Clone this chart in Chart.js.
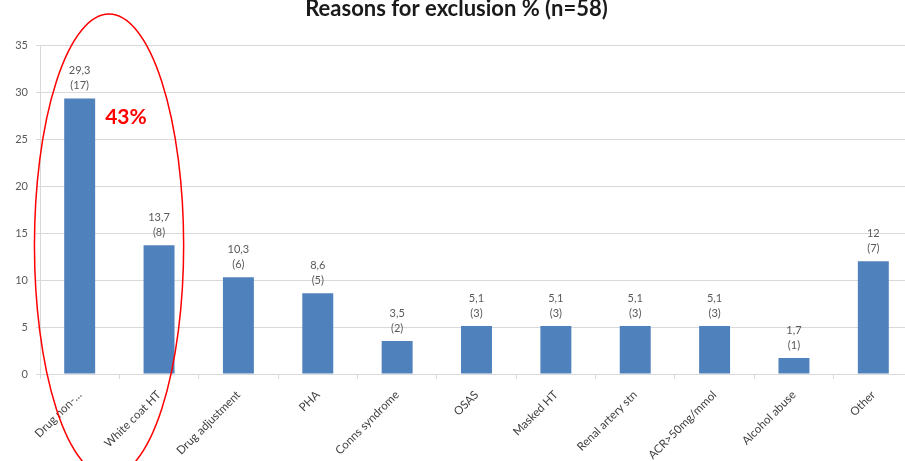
<!DOCTYPE html>
<html>
<head>
<meta charset="utf-8">
<script src="https://cdn.jsdelivr.net/npm/chart.js@4/dist/chart.umd.min.js"></script>
<style>
  html, body { margin: 0; padding: 0; background: #fff; overflow: hidden; }
  .chartBox { width: 913px; height: 461px; position: relative; }
</style>
</head>
<body>
<div class="chartBox"><canvas id="chart"></canvas></div>
<script>
const categories = ["Drug non-…", "White coat HT", "Drug adjustment", "PHA", "Conns syndrome",
	"OSAS", "Masked HT", "Renal artery stn", "ACR>50mg/mmol", "Alcohol abuse", "Other"];
const percents = [29.3, 13.7, 10.3, 8.6, 3.5, 5.1, 5.1, 5.1, 5.1, 1.7, 12];
const counts = [17, 8, 6, 5, 2, 3, 3, 3, 3, 1, 7];
const yTicks = [0, 5, 10, 15, 20, 25, 30, 35];
const highlightText = "43%";

const fontFamily = "Lato, 'Open Sans', sans-serif";

// two-line label above each bar: "29,3" / "(17)"
const barLabels = {
	id: "barLabels",
	afterDatasetsDraw(chart) {
		const ctx = chart.ctx;
		const meta = chart.getDatasetMeta(0);
		ctx.save();
		ctx.font = `11px ${fontFamily}`;
		ctx.fillStyle = "#595959";
		ctx.textAlign = "center";
		ctx.textBaseline = "middle";
		meta.data.forEach((bar, i) => {
			const txt = String(percents[i]).replace(".", ",");
			ctx.fillText(txt, bar.x, bar.y - 28);
			ctx.fillText(`(${counts[i]})`, bar.x, bar.y - 13);
		});
		ctx.restore();
	}
};

// red ellipse round the first two bars and the "43%" note
const highlight = {
	id: "highlight",
	afterDraw(chart) {
		const ctx = chart.ctx;
		const x = chart.scales.x;
		const y = chart.scales.y;
		const step = x.getPixelForValue(1) - x.getPixelForValue(0);
		const cx = x.getPixelForValue(0) + step * 0.37;
		const cy = y.getPixelForValue(13.7);
		const rx = step * 0.94;
		const ry = y.getPixelForValue(0) - y.getPixelForValue(24.6);
		ctx.save();
		ctx.strokeStyle = "#ff0000";
		ctx.lineWidth = 1.5;
		ctx.beginPath();
		ctx.ellipse(cx, cy, rx, ry, 0, 0, Math.PI * 2);
		ctx.stroke();
		const bar = chart.getDatasetMeta(0).data[0];
		ctx.font = `bold 21px ${fontFamily}`;
		ctx.fillStyle = "#ff0000";
		ctx.textAlign = "left";
		ctx.textBaseline = "middle";
		ctx.fillText(highlightText, bar.x + bar.width / 2 + 10, y.getPixelForValue(27.3));
		ctx.restore();
	}
};

new Chart(document.getElementById("chart"), {
	type: "bar",
	data: {
		labels: categories,
		datasets: [{
			label: "Reasons for exclusion %",
			data: percents,
			backgroundColor: "#4f81bd",
			borderWidth: 0,
			categoryPercentage: 1,
			barPercentage: 0.39
		}]
	},
	options: {
		responsive: true,
		maintainAspectRatio: false,
		animation: false,
		layout: { padding: { top: -4, left: 0, right: 0, bottom: 0 } },
		plugins: {
			legend: { display: false },
			tooltip: { enabled: false },
			title: {
				display: true,
				text: "Reasons for exclusion % (n=58)",
				color: "#1a1a1a",
				font: { family: fontFamily, size: 22, weight: "bold" },
				padding: { top: 0, bottom: 22.6 }
			}
		},
		scales: {
			x: {
				afterFit: (s) => { s.height = 87; },
				grid: {
					offset: true,
					drawOnChartArea: false,
					color: "#d9d9d9",
					tickLength: 5
				},
				border: { color: "#d9d9d9" },
				ticks: {
					autoSkip: false,
					maxRotation: 45,
					minRotation: 45,
					color: "#404040",
					padding: 9,
					font: { family: fontFamily, size: 11.5 }
				}
			},
			y: {
				min: 0,
				max: 35,
				afterFit: (s) => { s.width = 40; },
				afterBuildTicks: (s) => { s.ticks = yTicks.map(v => ({ value: v })); },
				grid: { color: "#d9d9d9", tickLength: 4 },
				border: { color: "#d9d9d9" },
				ticks: {
					color: "#595959",
					padding: 8,
					font: { family: fontFamily, size: 11 }
				}
			}
		}
	},
	plugins: [barLabels, highlight]
});
</script>
</body>
</html>
